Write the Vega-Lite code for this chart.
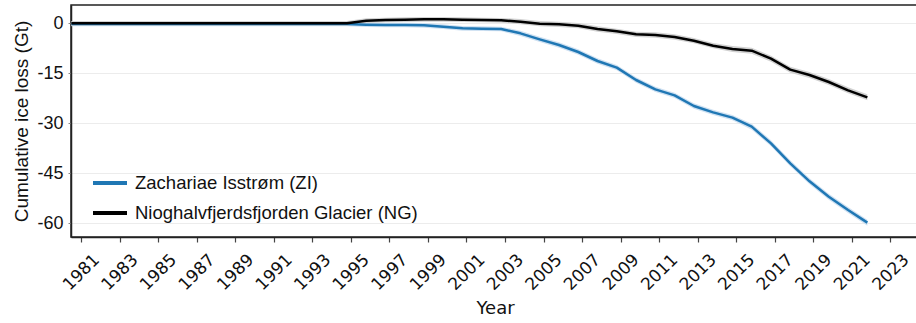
{
  "$schema": "https://vega.github.io/schema/vega-lite/v6.json",
  "autosize": {"type": "none"},
  "padding": {"left": 71, "top": 5, "right": 0, "bottom": 86},
  "width": 848,
  "height": 232,
  "background": "white",
  "config": {
    "view": {"stroke": "#222222", "strokeWidth": 1.5},
    "font": "Liberation Sans"
  },
  "data": {
    "values": [
      {"glacier": "Zachariae Isstrøm (ZI)", "year": 1980.5, "loss": -0.2, "low": -0.9, "high": 0.5},
      {"glacier": "Zachariae Isstrøm (ZI)", "year": 1981.8, "loss": -0.2, "low": -0.9, "high": 0.5},
      {"glacier": "Zachariae Isstrøm (ZI)", "year": 1982.8, "loss": -0.2, "low": -0.9, "high": 0.5},
      {"glacier": "Zachariae Isstrøm (ZI)", "year": 1983.8, "loss": -0.2, "low": -0.9, "high": 0.5},
      {"glacier": "Zachariae Isstrøm (ZI)", "year": 1984.8, "loss": -0.2, "low": -0.9, "high": 0.5},
      {"glacier": "Zachariae Isstrøm (ZI)", "year": 1985.8, "loss": -0.2, "low": -0.9, "high": 0.5},
      {"glacier": "Zachariae Isstrøm (ZI)", "year": 1986.8, "loss": -0.2, "low": -0.9, "high": 0.5},
      {"glacier": "Zachariae Isstrøm (ZI)", "year": 1987.8, "loss": -0.2, "low": -0.9, "high": 0.5},
      {"glacier": "Zachariae Isstrøm (ZI)", "year": 1988.8, "loss": -0.2, "low": -0.9, "high": 0.5},
      {"glacier": "Zachariae Isstrøm (ZI)", "year": 1989.8, "loss": -0.2, "low": -0.9, "high": 0.5},
      {"glacier": "Zachariae Isstrøm (ZI)", "year": 1990.8, "loss": -0.2, "low": -0.9, "high": 0.5},
      {"glacier": "Zachariae Isstrøm (ZI)", "year": 1991.8, "loss": -0.2, "low": -0.9, "high": 0.5},
      {"glacier": "Zachariae Isstrøm (ZI)", "year": 1992.8, "loss": -0.2, "low": -0.9, "high": 0.5},
      {"glacier": "Zachariae Isstrøm (ZI)", "year": 1993.8, "loss": -0.2, "low": -0.9, "high": 0.5},
      {"glacier": "Zachariae Isstrøm (ZI)", "year": 1994.8, "loss": -0.2, "low": -0.9, "high": 0.5},
      {"glacier": "Zachariae Isstrøm (ZI)", "year": 1995.8, "loss": -0.4, "low": -1.1, "high": 0.3},
      {"glacier": "Zachariae Isstrøm (ZI)", "year": 1996.8, "loss": -0.5, "low": -1.2, "high": 0.2},
      {"glacier": "Zachariae Isstrøm (ZI)", "year": 1997.8, "loss": -0.5, "low": -1.2, "high": 0.2},
      {"glacier": "Zachariae Isstrøm (ZI)", "year": 1998.8, "loss": -0.6, "low": -1.3, "high": 0.1},
      {"glacier": "Zachariae Isstrøm (ZI)", "year": 1999.8, "loss": -1.0, "low": -1.7, "high": -0.3},
      {"glacier": "Zachariae Isstrøm (ZI)", "year": 2000.8, "loss": -1.5, "low": -2.2, "high": -0.8},
      {"glacier": "Zachariae Isstrøm (ZI)", "year": 2001.8, "loss": -1.6, "low": -2.3, "high": -0.9},
      {"glacier": "Zachariae Isstrøm (ZI)", "year": 2002.8, "loss": -1.7, "low": -2.4, "high": -1.0},
      {"glacier": "Zachariae Isstrøm (ZI)", "year": 2003.8, "loss": -3.0, "low": -3.8, "high": -2.2},
      {"glacier": "Zachariae Isstrøm (ZI)", "year": 2004.8, "loss": -4.8, "low": -5.6, "high": -4.0},
      {"glacier": "Zachariae Isstrøm (ZI)", "year": 2005.8, "loss": -6.5, "low": -7.3, "high": -5.7},
      {"glacier": "Zachariae Isstrøm (ZI)", "year": 2006.8, "loss": -8.6, "low": -9.4, "high": -7.8},
      {"glacier": "Zachariae Isstrøm (ZI)", "year": 2007.8, "loss": -11.3, "low": -12.1, "high": -10.5},
      {"glacier": "Zachariae Isstrøm (ZI)", "year": 2008.8, "loss": -13.3, "low": -14.1, "high": -12.5},
      {"glacier": "Zachariae Isstrøm (ZI)", "year": 2009.8, "loss": -17.0, "low": -17.8, "high": -16.2},
      {"glacier": "Zachariae Isstrøm (ZI)", "year": 2010.8, "loss": -19.8, "low": -20.6, "high": -19.0},
      {"glacier": "Zachariae Isstrøm (ZI)", "year": 2011.8, "loss": -21.6, "low": -22.4, "high": -20.8},
      {"glacier": "Zachariae Isstrøm (ZI)", "year": 2012.8, "loss": -24.8, "low": -25.6, "high": -24.0},
      {"glacier": "Zachariae Isstrøm (ZI)", "year": 2013.8, "loss": -26.7, "low": -27.5, "high": -25.9},
      {"glacier": "Zachariae Isstrøm (ZI)", "year": 2014.8, "loss": -28.3, "low": -29.1, "high": -27.5},
      {"glacier": "Zachariae Isstrøm (ZI)", "year": 2015.8, "loss": -31.0, "low": -31.9, "high": -30.1},
      {"glacier": "Zachariae Isstrøm (ZI)", "year": 2016.8, "loss": -36.0, "low": -36.9, "high": -35.1},
      {"glacier": "Zachariae Isstrøm (ZI)", "year": 2017.8, "loss": -42.0, "low": -42.9, "high": -41.1},
      {"glacier": "Zachariae Isstrøm (ZI)", "year": 2018.8, "loss": -47.4, "low": -48.3, "high": -46.5},
      {"glacier": "Zachariae Isstrøm (ZI)", "year": 2019.8, "loss": -52.0, "low": -52.9, "high": -51.1},
      {"glacier": "Zachariae Isstrøm (ZI)", "year": 2020.8, "loss": -56.0, "low": -56.9, "high": -55.1},
      {"glacier": "Zachariae Isstrøm (ZI)", "year": 2021.8, "loss": -59.8, "low": -60.7, "high": -58.9},
      {"glacier": "Nioghalvfjerdsfjorden Glacier (NG)", "year": 1980.5, "loss": 0.0, "low": -0.7, "high": 0.7},
      {"glacier": "Nioghalvfjerdsfjorden Glacier (NG)", "year": 1981.8, "loss": 0.0, "low": -0.7, "high": 0.7},
      {"glacier": "Nioghalvfjerdsfjorden Glacier (NG)", "year": 1982.8, "loss": 0.0, "low": -0.7, "high": 0.7},
      {"glacier": "Nioghalvfjerdsfjorden Glacier (NG)", "year": 1983.8, "loss": 0.0, "low": -0.7, "high": 0.7},
      {"glacier": "Nioghalvfjerdsfjorden Glacier (NG)", "year": 1984.8, "loss": 0.0, "low": -0.7, "high": 0.7},
      {"glacier": "Nioghalvfjerdsfjorden Glacier (NG)", "year": 1985.8, "loss": 0.0, "low": -0.7, "high": 0.7},
      {"glacier": "Nioghalvfjerdsfjorden Glacier (NG)", "year": 1986.8, "loss": 0.0, "low": -0.7, "high": 0.7},
      {"glacier": "Nioghalvfjerdsfjorden Glacier (NG)", "year": 1987.8, "loss": 0.0, "low": -0.7, "high": 0.7},
      {"glacier": "Nioghalvfjerdsfjorden Glacier (NG)", "year": 1988.8, "loss": 0.0, "low": -0.7, "high": 0.7},
      {"glacier": "Nioghalvfjerdsfjorden Glacier (NG)", "year": 1989.8, "loss": 0.0, "low": -0.7, "high": 0.7},
      {"glacier": "Nioghalvfjerdsfjorden Glacier (NG)", "year": 1990.8, "loss": 0.0, "low": -0.7, "high": 0.7},
      {"glacier": "Nioghalvfjerdsfjorden Glacier (NG)", "year": 1991.8, "loss": 0.0, "low": -0.7, "high": 0.7},
      {"glacier": "Nioghalvfjerdsfjorden Glacier (NG)", "year": 1992.8, "loss": 0.0, "low": -0.7, "high": 0.7},
      {"glacier": "Nioghalvfjerdsfjorden Glacier (NG)", "year": 1993.8, "loss": 0.0, "low": -0.7, "high": 0.7},
      {"glacier": "Nioghalvfjerdsfjorden Glacier (NG)", "year": 1994.8, "loss": 0.0, "low": -0.7, "high": 0.7},
      {"glacier": "Nioghalvfjerdsfjorden Glacier (NG)", "year": 1995.8, "loss": 0.8, "low": 0.1, "high": 1.5},
      {"glacier": "Nioghalvfjerdsfjorden Glacier (NG)", "year": 1996.8, "loss": 1.0, "low": 0.3, "high": 1.7},
      {"glacier": "Nioghalvfjerdsfjorden Glacier (NG)", "year": 1997.8, "loss": 1.1, "low": 0.4, "high": 1.8},
      {"glacier": "Nioghalvfjerdsfjorden Glacier (NG)", "year": 1998.8, "loss": 1.2, "low": 0.5, "high": 1.9},
      {"glacier": "Nioghalvfjerdsfjorden Glacier (NG)", "year": 1999.8, "loss": 1.2, "low": 0.5, "high": 1.9},
      {"glacier": "Nioghalvfjerdsfjorden Glacier (NG)", "year": 2000.8, "loss": 1.1, "low": 0.4, "high": 1.8},
      {"glacier": "Nioghalvfjerdsfjorden Glacier (NG)", "year": 2001.8, "loss": 1.0, "low": 0.3, "high": 1.7},
      {"glacier": "Nioghalvfjerdsfjorden Glacier (NG)", "year": 2002.8, "loss": 0.9, "low": 0.2, "high": 1.6},
      {"glacier": "Nioghalvfjerdsfjorden Glacier (NG)", "year": 2003.8, "loss": 0.5, "low": -0.3, "high": 1.3},
      {"glacier": "Nioghalvfjerdsfjorden Glacier (NG)", "year": 2004.8, "loss": -0.1, "low": -0.9, "high": 0.7},
      {"glacier": "Nioghalvfjerdsfjorden Glacier (NG)", "year": 2005.8, "loss": -0.3, "low": -1.1, "high": 0.5},
      {"glacier": "Nioghalvfjerdsfjorden Glacier (NG)", "year": 2006.8, "loss": -0.7, "low": -1.5, "high": 0.1},
      {"glacier": "Nioghalvfjerdsfjorden Glacier (NG)", "year": 2007.8, "loss": -1.7, "low": -2.5, "high": -0.9},
      {"glacier": "Nioghalvfjerdsfjorden Glacier (NG)", "year": 2008.8, "loss": -2.4, "low": -3.2, "high": -1.6},
      {"glacier": "Nioghalvfjerdsfjorden Glacier (NG)", "year": 2009.8, "loss": -3.3, "low": -4.1, "high": -2.5},
      {"glacier": "Nioghalvfjerdsfjorden Glacier (NG)", "year": 2010.8, "loss": -3.5, "low": -4.3, "high": -2.7},
      {"glacier": "Nioghalvfjerdsfjorden Glacier (NG)", "year": 2011.8, "loss": -4.1, "low": -4.9, "high": -3.3},
      {"glacier": "Nioghalvfjerdsfjorden Glacier (NG)", "year": 2012.8, "loss": -5.2, "low": -6.0, "high": -4.4},
      {"glacier": "Nioghalvfjerdsfjorden Glacier (NG)", "year": 2013.8, "loss": -6.7, "low": -7.5, "high": -5.9},
      {"glacier": "Nioghalvfjerdsfjorden Glacier (NG)", "year": 2014.8, "loss": -7.7, "low": -8.6, "high": -6.8},
      {"glacier": "Nioghalvfjerdsfjorden Glacier (NG)", "year": 2015.8, "loss": -8.2, "low": -9.1, "high": -7.3},
      {"glacier": "Nioghalvfjerdsfjorden Glacier (NG)", "year": 2016.8, "loss": -10.6, "low": -11.5, "high": -9.7},
      {"glacier": "Nioghalvfjerdsfjorden Glacier (NG)", "year": 2017.8, "loss": -13.9, "low": -14.8, "high": -13.0},
      {"glacier": "Nioghalvfjerdsfjorden Glacier (NG)", "year": 2018.8, "loss": -15.5, "low": -16.4, "high": -14.6},
      {"glacier": "Nioghalvfjerdsfjorden Glacier (NG)", "year": 2019.8, "loss": -17.6, "low": -18.5, "high": -16.7},
      {"glacier": "Nioghalvfjerdsfjorden Glacier (NG)", "year": 2020.8, "loss": -20.1, "low": -21.0, "high": -19.2},
      {"glacier": "Nioghalvfjerdsfjorden Glacier (NG)", "year": 2021.8, "loss": -22.2, "low": -23.1, "high": -21.3}
    ]
  },
  "encoding": {
    "x": {
      "field": "year",
      "type": "quantitative",
      "scale": {"domain": [1980.48, 2024.48], "nice": false, "zero": false},
      "axis": {
        "values": [1981, 1983, 1985, 1987, 1989, 1991, 1993, 1995, 1997, 1999, 2001, 2003, 2005, 2007, 2009, 2011, 2013, 2015, 2017, 2019, 2021, 2023],
        "format": "d",
        "grid": false,
        "labelAngle": -45,
        "labelAlign": "center",
        "labelBaseline": "middle",
        "labelPadding": 30,
        "labelFont": "DejaVu Sans",
        "labelFontSize": 17,
        "labelColor": "#111111",
        "labelOverlap": false,
        "labelFlush": false,
        "tickSize": 5,
        "tickColor": "#444444",
        "tickWidth": 1.2,
        "domainColor": "#222222",
        "domainWidth": 1.5,
        "title": "Year",
        "titleFont": "DejaVu Sans",
        "titleFontSize": 18,
        "titleFontWeight": "normal",
        "titleColor": "#111111",
        "titleBaseline": "top",
        "titleY": 62
      }
    },
    "y": {
      "type": "quantitative",
      "scale": {"domain": [-64.1, 5.5], "nice": false, "zero": false},
      "axis": {
        "values": [0, -15, -30, -45, -60],
        "labelExpr": "toString(datum.value)",
        "grid": true,
        "gridColor": "#ececec",
        "gridWidth": 1,
        "labelFont": "Liberation Sans",
        "labelFontSize": 18,
        "labelColor": "#111111",
        "labelPadding": 5,
        "tickSize": 3,
        "tickColor": "#888888",
        "domainColor": "#222222",
        "domainWidth": 1.5,
        "title": "Cumulative ice loss (Gt)",
        "titleFont": "Liberation Sans",
        "titleFontSize": 19,
        "titleFontWeight": "normal",
        "titleColor": "#111111",
        "titlePadding": 5
      }
    }
  },
  "layer": [
    {
      "transform": [{"filter": "datum.glacier === 'Zachariae Isstrøm (ZI)'"}],
      "mark": {"type": "area", "color": "#cfe1f2", "opacity": 1},
      "encoding": {
        "y": {"field": "low", "type": "quantitative"},
        "y2": {"field": "high"}
      }
    },
    {
      "transform": [{"filter": "datum.glacier === 'Nioghalvfjerdsfjorden Glacier (NG)'"}],
      "mark": {"type": "area", "color": "#d2d2d2", "opacity": 1},
      "encoding": {
        "y": {"field": "low", "type": "quantitative"},
        "y2": {"field": "high"}
      }
    },
    {
      "mark": {"type": "line", "strokeWidth": 2.5, "strokeJoin": "round"},
      "encoding": {
        "y": {"field": "loss", "type": "quantitative"},
        "stroke": {
          "field": "glacier",
          "type": "nominal",
          "sort": null,
          "scale": {
            "domain": ["Zachariae Isstrøm (ZI)", "Nioghalvfjerdsfjorden Glacier (NG)"],
            "range": ["#1f77b4", "#000000"]
          },
          "legend": {
            "orient": "none",
            "legendX": 20,
            "legendY": 163,
            "title": null,
            "padding": 0,
            "symbolType": "stroke",
            "symbolStrokeWidth": 4,
            "symbolSize": 1156,
            "labelFont": "Liberation Sans",
            "labelFontSize": 18.5,
            "labelColor": "#111111",
            "labelOffset": 6,
            "rowPadding": 0,
            "clipHeight": 30,
            "labelLimit": 400
          }
        }
      }
    }
  ]
}
